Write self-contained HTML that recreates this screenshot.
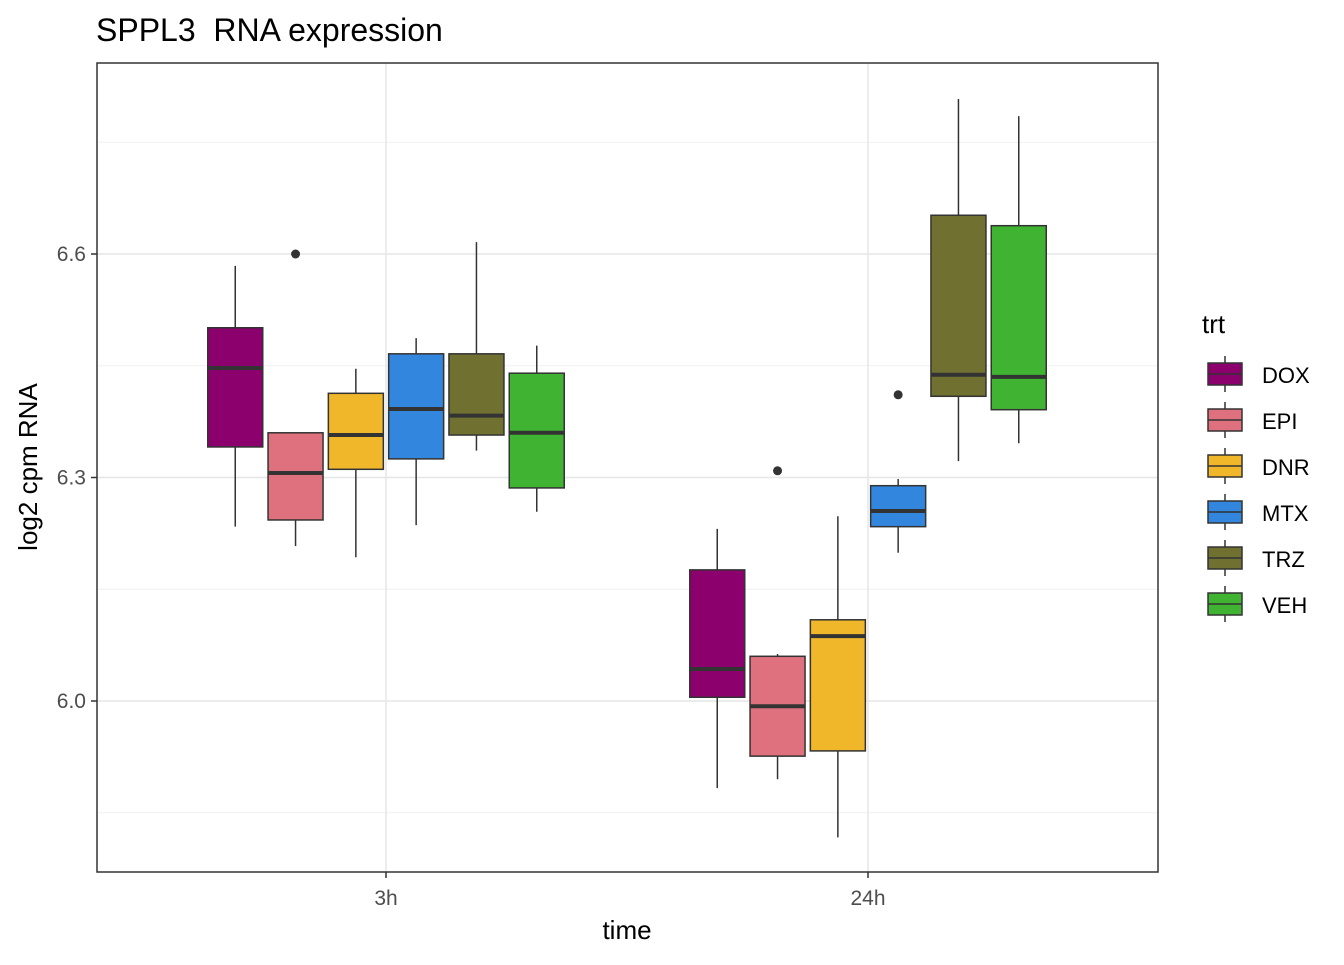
<!DOCTYPE html>
<html><head><meta charset="utf-8"><style>
body{margin:0;background:#fff;font-family:"Liberation Sans",Arial,sans-serif;}
</style></head><body>
<svg id="chart" width="1344" height="960" xmlns="http://www.w3.org/2000/svg">
<rect width="1344" height="960" fill="#fff"/>
<text x="96" y="41" font-size="32" fill="#000" xml:space="preserve" style="white-space:pre">SPPL3  RNA expression</text>
<g id="grid"></g>
<g id="boxes"></g>
<rect x="97" y="63" width="1061" height="809" fill="none" stroke="#333" stroke-width="1.5"/>
<g id="axes"></g>
<text x="627" y="939" font-size="26" text-anchor="middle">time</text>
<text transform="translate(37,467) rotate(-90)" font-size="26" text-anchor="middle">log2 cpm RNA</text>
<text x="1202" y="333" font-size="26">trt</text>
<g id="legend"></g>
</svg>
<script>
const timepoints=["3h","24h"];
const treatments=["DOX","EPI","DNR","MTX","TRZ","VEH"];
const colors=["#8B006D","#DF707E","#F1B72B","#3386DD","#707031","#41B333"];
const yTicks=[6.0,6.3,6.6];
const yMinor=[5.85,6.15,6.45,6.75];
// [lower whisker, Q1, median, Q3, upper whisker] per timepoint per treatment
const stats3h=[[6.234,6.341,6.447,6.501,6.584],[6.208,6.243,6.306,6.360,6.360],[6.193,6.311,6.357,6.413,6.446],[6.236,6.325,6.392,6.466,6.487],[6.336,6.357,6.383,6.466,6.616],[6.254,6.286,6.360,6.440,6.477]];
const stats24h=[[5.883,6.005,6.043,6.176,6.231],[5.895,5.926,5.993,6.060,6.063],[5.817,5.933,6.087,6.109,6.248],[6.199,6.234,6.255,6.289,6.298],[6.322,6.409,6.438,6.652,6.808],[6.346,6.391,6.435,6.638,6.785]];
const outliers=[{t:0,g:1,v:6.6},{t:1,g:1,v:6.309},{t:1,g:3,v:6.411}];
const NS="http://www.w3.org/2000/svg";
const y=v=>701-(v-6.0)*745;
const xc=i=>[386,868][i];
const off=g=>(g-2.5)*60.3;
function mk(tag,attrs,parent){const e=document.createElementNS(NS,tag);for(const k in attrs)e.setAttribute(k,attrs[k]);parent.appendChild(e);return e;}
const grid=document.getElementById('grid');
yMinor.forEach(v=>{const l=mk('line',{x1:97,x2:1158,y1:y(v),y2:y(v),stroke:'#f0f0f0','stroke-width':1},grid);

});
yTicks.forEach(v=>{const l=mk('line',{x1:97,x2:1158,y1:y(v),y2:y(v),stroke:'#e6e6e6','stroke-width':1.5},grid);

});
timepoints.forEach((t,i)=>{const l=mk('line',{x1:xc(i),x2:xc(i),y1:63,y2:872,stroke:'#e6e6e6','stroke-width':1.5},grid);

});
const boxes=document.getElementById('boxes');
[stats3h,stats24h].forEach((S,ti)=>{S.forEach((s,g)=>{
 const cx=xc(ti)+off(g),w=55;
 const grp=mk('g',{},boxes);
 
 
 mk('line',{x1:cx,x2:cx,y1:y(s[4]),y2:y(s[0]),stroke:'#333','stroke-width':1.5},grp);
 mk('rect',{x:cx-w/2,y:y(s[3]),width:w,height:y(s[1])-y(s[3]),fill:colors[g],stroke:'#333','stroke-width':1.5},grp);
 mk('line',{x1:cx-w/2,x2:cx+w/2,y1:y(s[2]),y2:y(s[2]),stroke:'#333','stroke-width':4},grp);
});});
outliers.forEach(o=>{const c=mk('circle',{cx:xc(o.t)+off(o.g),cy:y(o.v),r:4.5,fill:'#333'},boxes);

});
const axes=document.getElementById('axes');
yTicks.forEach(v=>{mk('line',{x1:91,x2:97,y1:y(v),y2:y(v),stroke:'#333','stroke-width':1.5},axes);
const t=mk('text',{x:86,y:y(v)+7,'font-size':21,'text-anchor':'end',fill:'#4d4d4d'},axes);t.textContent=v.toFixed(1);

});
timepoints.forEach((tp,i)=>{mk('line',{x1:xc(i),x2:xc(i),y1:872,y2:878,stroke:'#333','stroke-width':1.5},axes);
const t=mk('text',{x:xc(i),y:905,'font-size':21,'text-anchor':'middle',fill:'#4d4d4d'},axes);t.textContent=tp;

});
const leg=document.getElementById('legend');
treatments.forEach((tr,g)=>{const cy=374+g*46;const grp=mk('g',{},leg);


mk('line',{x1:1225,x2:1225,y1:cy-18,y2:cy+18,stroke:'#333','stroke-width':1.5},grp);
mk('rect',{x:1208,y:cy-11,width:34,height:22,fill:colors[g],stroke:'#333','stroke-width':1.5},grp);
mk('line',{x1:1208,x2:1242,y1:cy,y2:cy,stroke:'#333','stroke-width':1.5},grp);
const t=mk('text',{x:1262,y:cy+9,'font-size':22},grp);t.textContent=tr;});
</script>
</body></html>
